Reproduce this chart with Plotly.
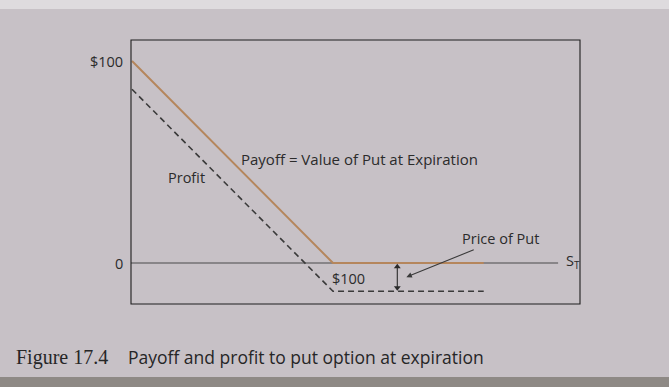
import plotly.graph_objects as go

# Put option: strike and premium
strike = 100
put_price = 14

# Stock prices at expiration (S_T) used to trace the payoff / profit lines
stock_prices = [0, 100, 175]
payoff = [max(strike - s, 0) for s in stock_prices]
profit = [p - put_price for p in payoff]

# Axis tick labels
y_tick_vals = [100, 0]
y_tick_text = ["$100", "0"]
x_tick_val = 100
x_tick_text = "$100"
axis_end = 212
premium_marker_s = 132

paper = "#c7c1c6"
ink = "#2b2b2b"
text_font = "Open Sans"

fig = go.Figure()

# Horizontal S_T axis
fig.add_trace(go.Scatter(x=[-0.5, axis_end], y=[0, 0], mode="lines",
                         line=dict(color="#4a4a4a", width=1.2),
                         hoverinfo="skip", showlegend=False))
# Profit (dashed)
fig.add_trace(go.Scatter(x=stock_prices, y=profit, mode="lines",
                         line=dict(color="#3a3a3a", width=1.6, dash="6px,4px"),
                         hoverinfo="skip", showlegend=False))
# Payoff = value of put at expiration
fig.add_trace(go.Scatter(x=stock_prices, y=payoff, mode="lines",
                         line=dict(color="#b5865c", width=2),
                         hoverinfo="skip", showlegend=False))
# Double-headed arrow spanning the premium
fig.add_trace(go.Scatter(x=[premium_marker_s, premium_marker_s],
                         y=[-1.8, -put_price + 1.8], mode="lines+markers",
                         line=dict(color="#2b2b2b", width=1.1),
                         marker=dict(symbol=["triangle-up", "triangle-down"], size=6,
                                     color="#2b2b2b"),
                         hoverinfo="skip", showlegend=False))

annotations = []
# y tick labels
for v, t in zip(y_tick_vals, y_tick_text):
    annotations.append(dict(x=0, xref="paper", xshift=-6, y=v, yref="y",
                            text=t, showarrow=False, xanchor="right",
                            yanchor="middle",
                            font=dict(family=text_font, size=14.5, color=ink)))
# x tick label under the strike
annotations.append(dict(x=x_tick_val + 7.5, y=-7.5, text=x_tick_text,
                        showarrow=False, xanchor="center", yanchor="middle",
                        font=dict(family=text_font, size=14.5, color=ink)))
# S_T axis label
annotations.append(dict(x=axis_end + 3, y=0.8, text="S<sub>T</sub>",
                        showarrow=False, xanchor="left", yanchor="middle",
                        font=dict(family=text_font, size=14.5, color=ink)))
# Line labels
annotations.append(dict(x=113, y=51.5, text="Payoff = Value of Put at Expiration",
                        showarrow=False, xanchor="center", yanchor="middle",
                        font=dict(family=text_font, size=15, color=ink)))
annotations.append(dict(x=27, y=42.5, text="Profit",
                        showarrow=False, xanchor="center", yanchor="middle",
                        font=dict(family=text_font, size=14.5, color=ink)))
# Price of put label with pointer arrow
annotations.append(dict(x=136.5, y=-7, ax=183.5, ay=12, axref="x", ayref="y",
                        text="Price of Put", showarrow=True, arrowhead=2,
                        arrowsize=1, arrowwidth=1.1, arrowcolor="#3a3a3a",
                        font=dict(family=text_font, size=14.5, color=ink)))
# Caption
annotations.append(dict(x=14, y=357, xref="paper", yref="paper", text="Figure 17.4",
                        showarrow=False, xanchor="left", yanchor="middle",
                        font=dict(family="Liberation Serif", size=20, color="#262626")))
annotations.append(dict(x=126, y=357, xref="paper", yref="paper",
                        text="Payoff and profit to put option at expiration",
                        showarrow=False, xanchor="left", yanchor="middle",
                        font=dict(family=text_font, size=17.5, color="#262626")))

W, H = 669, 387
# caption annotations use pixel positions converted to paper fractions
L, R, T, B = 131, 89, 40, 83
pw, ph = W - L - R, H - T - B
for a in annotations[-2:]:
    a["x"] = (a["x"] - L) / pw
    a["y"] = (H - B - a["y"]) / ph

shapes = [
    # light edge of the page at the top
    dict(type="rect", xref="paper", yref="paper",
         x0=-L / pw, x1=(W - L) / pw, y0=(H - B - 0) / ph, y1=(H - B - 9) / ph,
         fillcolor="#dedbde", line=dict(width=0), layer="below"),
    # darker strip at the bottom of the photo
    dict(type="rect", xref="paper", yref="paper",
         x0=-L / pw, x1=(W - L) / pw, y0=(H - B - 377) / ph, y1=(H - B - 387) / ph,
         fillcolor="#8e8985", line=dict(width=0), layer="below"),
    # figure frame
    dict(type="rect", xref="paper", yref="paper", x0=0, x1=1, y0=0, y1=1,
         line=dict(color="#1e1e1e", width=1.1)),
]

fig.update_layout(
    width=W, height=H,
    margin=dict(l=L, r=R, t=T, b=B),
    paper_bgcolor=paper, plot_bgcolor=paper,
    xaxis=dict(range=[-0.5, 222.9], visible=False),
    yaxis=dict(range=[-20.3, 110.4], visible=False),
    annotations=annotations,
    shapes=shapes,
)

fig.write_html("out.html")
